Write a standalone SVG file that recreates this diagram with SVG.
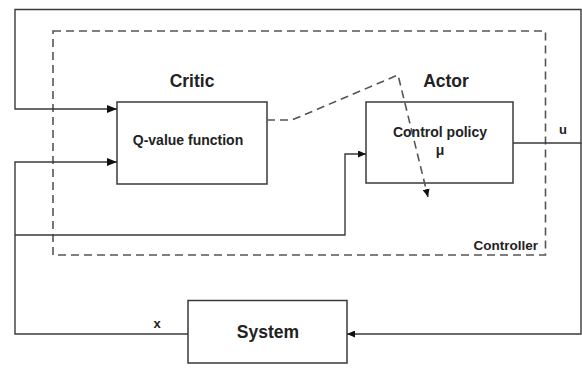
<svg xmlns="http://www.w3.org/2000/svg" width="582" height="375" viewBox="0 0 582 375">
<style>
.box{fill:#fff;stroke:#3a3a3a;stroke-width:1.5}
.ln{fill:none;stroke:#3a3a3a;stroke-width:1.4}
.dash{fill:none;stroke:#555;stroke-width:1.6;stroke-dasharray:8 5}
text{font-family:"Liberation Sans",Arial,sans-serif;font-weight:bold;fill:#222}
.big{font-size:17.5px}
.mid{font-size:14px}
.sm{font-size:13px}
</style>
<defs>
<marker id="ah" viewBox="0 0 10 8" refX="10" refY="4" markerWidth="10" markerHeight="8" markerUnits="userSpaceOnUse" orient="auto">
<path d="M0,0 L10,4 L0,8 Z" fill="#111"/>
</marker>
<marker id="ahs" viewBox="0 0 8 7" refX="8" refY="3.5" markerWidth="8" markerHeight="7" markerUnits="userSpaceOnUse" orient="auto">
<path d="M0,0 L8,3.5 L0,7 Z" fill="#111"/>
</marker>
</defs>
<rect width="582" height="375" fill="#fff"/>
<g id="controller">
<rect class="dash" x="53" y="31" width="492.5" height="224"/>
<text class="sm" x="538" y="249.5" text-anchor="end" style="font-size:13.5px">Controller</text>
</g>
<g id="critic">
<text class="big" x="192" y="87" text-anchor="middle">Critic</text>
<rect class="box" x="117" y="102" width="150" height="82"/>
<text class="mid" x="188" y="145" text-anchor="middle">Q-value function</text>
</g>
<g id="actor">
<text class="big" x="446" y="87" text-anchor="middle">Actor</text>
<rect class="box" x="366" y="102" width="147" height="81"/>
<text class="mid" x="440" y="137" text-anchor="middle">Control policy</text>
<text class="mid" x="440" y="155" text-anchor="middle">μ</text>
</g>
<g id="system">
<rect class="box" x="188" y="300.5" width="159" height="62.5"/>
<text class="big" x="268" y="338" text-anchor="middle">System</text>
</g>
<g id="connectors">
<path class="ln" d="M513,143 H581 V9.5 H15 V109 H117" marker-end="url(#ah)"/>
<path class="ln" d="M581,143 V334 H347" marker-end="url(#ahs)"/>
<path class="ln" d="M188,334 H15 V162 H117" marker-end="url(#ah)"/>
<path class="ln" d="M15,235 H345 V154 H366" marker-end="url(#ahs)"/>
<path class="dash" d="M267,120 H292 L398,75 L428,197" marker-end="url(#ahs)"/>
<text class="sm" x="563" y="134" text-anchor="middle">u</text>
<text class="sm" x="157" y="328" text-anchor="middle">x</text>
</g>
</svg>
